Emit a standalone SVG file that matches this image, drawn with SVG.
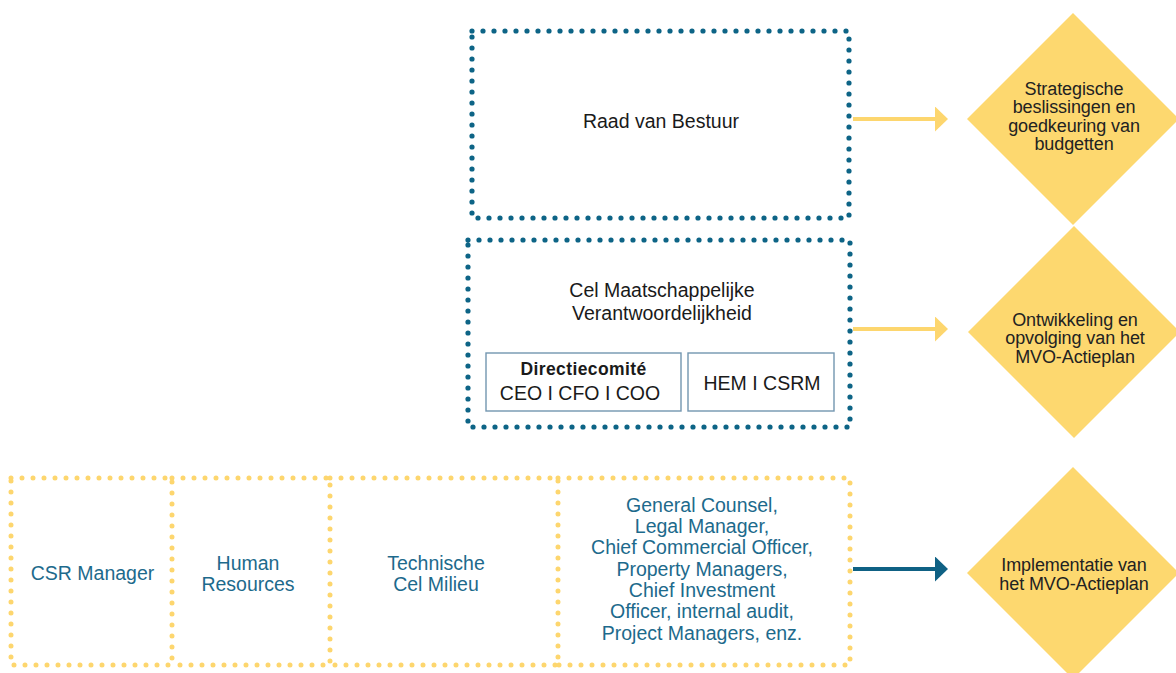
<svg xmlns="http://www.w3.org/2000/svg" width="1176" height="673" viewBox="0 0 1176 673">
<style>
  .bdot { fill: none; stroke: #0d6486; stroke-width: 5.2; stroke-linecap: round; stroke-dasharray: 0 11; }
  .ydot { fill: none; stroke: #fdd66e; stroke-width: 5; stroke-linecap: round; stroke-dasharray: 0 11; }
  .inner { fill: #fff; stroke: #7396b0; stroke-width: 1.4; }
  .dia { fill: #fdd86f; }
  .t { font-family: "Liberation Sans", Arial, sans-serif; font-size: 19.5px; fill: #1a1a1a; text-anchor: middle; }
  .tb { font-weight: bold; font-size: 17.5px; letter-spacing: 0.4px; }
  .tc { fill: #1d6a8c; }
  .td { font-size: 18px; fill: #222; letter-spacing: -0.1px; }
  .ya { stroke: #fdd66e; stroke-width: 4; fill: none; }
  .ba { stroke: #0f6184; stroke-width: 4; fill: none; }
</style>
<defs>
  <marker id="ahY" markerUnits="userSpaceOnUse" markerWidth="14" markerHeight="26" refX="5" refY="12.5" orient="auto">
    <path d="M0,0 L13,12.5 L0,25 Z" fill="#fdd66e"/>
  </marker>
  <marker id="ahB" markerUnits="userSpaceOnUse" markerWidth="14" markerHeight="26" refX="5" refY="12.5" orient="auto">
    <path d="M0,0 L13,12.5 L0,25 Z" fill="#0f6184"/>
  </marker>
</defs>

<g id="connectors">
  <line class="ya" x1="853" y1="119" x2="940" y2="119" marker-end="url(#ahY)"/>
  <line class="ya" x1="853" y1="329" x2="940" y2="329" marker-end="url(#ahY)"/>
  <line class="ba" x1="853" y1="569" x2="940" y2="569" marker-end="url(#ahB)"/>
</g>

<g id="raad">
  <rect class="bdot" x="472" y="31" width="377" height="187"/>
  <text class="t" x="661" y="128">Raad van Bestuur</text>
</g>

<g id="cel">
  <rect class="bdot" x="468" y="240" width="382" height="187"/>
  <text class="t" x="662" y="297">Cel Maatschappelijke</text>
  <text class="t" x="662" y="320">Verantwoordelijkheid</text>
</g>

<g id="directiecomite">
  <rect class="inner" x="486" y="353" width="195" height="58"/>
  <text class="t tb" x="583.5" y="375">Directiecomité</text>
  <text class="t" x="580" y="400">CEO I CFO I COO</text>
</g>

<g id="hem">
  <rect class="inner" x="688" y="353" width="146" height="58"/>
  <text class="t" x="762" y="390">HEM I CSRM</text>
</g>

<g id="csr-manager">
  <rect class="ydot" x="11" y="478" width="161" height="187"/>
  <text class="t tc" x="92.5" y="580">CSR Manager</text>
</g>

<g id="human-resources">
  <path class="ydot" d="M172,478 H330 V665 H172"/>
  <text class="t tc" x="248" y="570">Human</text>
  <text class="t tc" x="248" y="591">Resources</text>
</g>

<g id="technische-cel">
  <path class="ydot" d="M330,478 H558 V665 H330"/>
  <text class="t tc" x="436" y="570">Technische</text>
  <text class="t tc" x="436" y="591">Cel Milieu</text>
</g>

<g id="general-counsel">
  <path class="ydot" d="M558,478 H850 V665 H558"/>
  <text class="t tc" x="702" y="512">General Counsel,</text>
  <text class="t tc" x="702" y="533">Legal Manager,</text>
  <text class="t tc" x="702" y="554">Chief Commercial Officer,</text>
  <text class="t tc" x="702" y="576">Property Managers,</text>
  <text class="t tc" x="702" y="597">Chief Investment</text>
  <text class="t tc" x="702" y="618">Officer, internal audit,</text>
  <text class="t tc" x="702" y="640">Project Managers, enz.</text>
</g>

<g id="strategische">
  <polygon class="dia" points="1073,13 1179,119 1073,225 967,119"/>
  <text class="t td" x="1074" y="95">Strategische</text>
  <text class="t td" x="1074" y="113">beslissingen en</text>
  <text class="t td" x="1074" y="132">goedkeuring van</text>
  <text class="t td" x="1074" y="150">budgetten</text>
</g>

<g id="ontwikkeling">
  <polygon class="dia" points="1074,226 1180,332 1074,438 968,332"/>
  <text class="t td" x="1075" y="326">Ontwikkeling en</text>
  <text class="t td" x="1075" y="344">opvolging van het</text>
  <text class="t td" x="1075" y="363">MVO-Actieplan</text>
</g>

<g id="implementatie">
  <polygon class="dia" points="1073,467 1179,573 1073,679 967,573"/>
  <text class="t td" x="1074" y="571">Implementatie van</text>
  <text class="t td" x="1074" y="590">het MVO-Actieplan</text>
</g>
</svg>
